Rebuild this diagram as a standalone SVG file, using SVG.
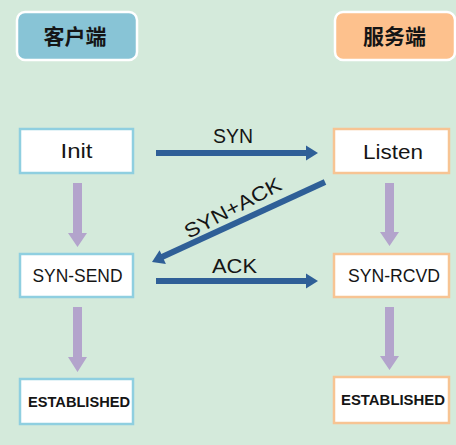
<svg xmlns="http://www.w3.org/2000/svg" width="456" height="445" viewBox="0 0 456 445">
<style>
.hdr{stroke:#ffffff;stroke-width:2.5}
.txt{font-family:"Liberation Sans","Noto Sans CJK SC",sans-serif;fill:#151515;text-anchor:middle}
.cbox{fill:#ffffff;stroke:#8fcfe0;stroke-width:2.5}
.sbox{fill:#ffffff;stroke:#f7c493;stroke-width:2.5}
.blue{stroke:#2f5f97;stroke-width:6;fill:none}
.bhead{fill:#2f5f97}
.purple{fill:#b3a4cc}
</style>
<rect width="456" height="445" fill="#d4eadb"/>
<g id="client-header">
<rect class="hdr" x="17" y="12" width="120" height="48" rx="8" fill="#88c4d6"/>
<text class="txt" x="75" y="44" font-size="21" font-weight="bold">客户端</text>
</g>
<g id="server-header">
<rect class="hdr" x="335" y="12" width="120" height="48" rx="8" fill="#fdc18d"/>
<text class="txt" x="394.5" y="44" font-size="21" font-weight="bold">服务端</text>
</g>
<g id="init">
<rect class="cbox" x="20" y="129" width="113" height="44"/>
<text class="txt" x="76.5" y="158" font-size="20" textLength="32" lengthAdjust="spacingAndGlyphs">Init</text>
</g>
<g id="syn-send">
<rect class="cbox" x="20" y="254" width="113" height="43"/>
<text class="txt" x="77.5" y="282" font-size="18" textLength="90" lengthAdjust="spacingAndGlyphs">SYN-SEND</text>
</g>
<g id="established-client">
<rect class="cbox" x="20" y="379" width="113" height="45"/>
<text class="txt" x="79" y="407" font-size="15" font-weight="bold" textLength="102" lengthAdjust="spacingAndGlyphs">ESTABLISHED</text>
</g>
<g id="listen">
<rect class="sbox" x="334" y="129" width="115" height="44"/>
<text class="txt" x="393" y="159" font-size="20" textLength="60" lengthAdjust="spacingAndGlyphs">Listen</text>
</g>
<g id="syn-rcvd">
<rect class="sbox" x="334" y="254" width="115" height="43"/>
<text class="txt" x="394" y="282" font-size="18" textLength="92" lengthAdjust="spacingAndGlyphs">SYN-RCVD</text>
</g>
<g id="established-server">
<rect class="sbox" x="334" y="377" width="115" height="46"/>
<text class="txt" x="393" y="405" font-size="15" font-weight="bold" textLength="104" lengthAdjust="spacingAndGlyphs">ESTABLISHED</text>
</g>
<g id="connectors">
<polygon class="purple" points="73,183 82,183 82,233 87,233 77.5,247 68,233 73,233"/>
<polygon class="purple" points="73,307 82,307 82,357 87,357 77.5,372 68,357 73,357"/>
<polygon class="purple" points="385,183 394,183 394,232 399,232 389.5,246 380,232 385,232"/>
<polygon class="purple" points="385,307 394,307 394,356 399,356 389.5,370 380,356 385,356"/>
<line class="blue" x1="156" y1="153" x2="308" y2="153"/>
<polygon class="bhead" points="306,145.5 318,153 306,160.5"/>
<line class="blue" x1="156" y1="281" x2="308" y2="281"/>
<polygon class="bhead" points="306,273.5 318,281 306,288.5"/>
<line class="blue" x1="325" y1="182" x2="162" y2="257"/>
<polygon class="bhead" points="159.6,250.3 152,262 165.9,263.9"/>
<text class="txt" x="233" y="143" font-size="20" textLength="40" lengthAdjust="spacingAndGlyphs">SYN</text>
<text class="txt" x="234.5" y="273" font-size="20" textLength="45" lengthAdjust="spacingAndGlyphs">ACK</text>
<text class="txt" x="0" y="0" font-size="20" textLength="107" lengthAdjust="spacingAndGlyphs" transform="translate(236,214) rotate(-28)">SYN+ACK</text>
</g>
</svg>
